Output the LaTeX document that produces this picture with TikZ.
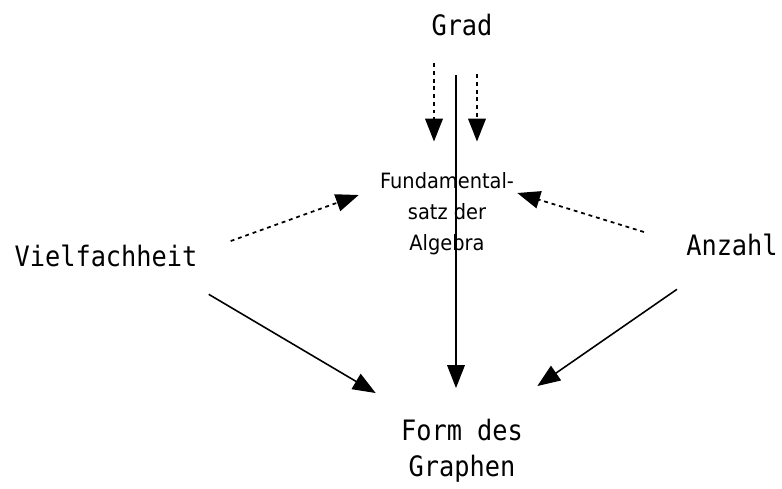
\documentclass[tikz,border=0pt]{standalone}
\usepackage{fontspec}
\setmainfont[FakeStretch = 0.9]{DejaVu Sans Mono}
\newfontfamily\fundfont[FakeStretch = 0.92]{DejaVu Sans}
\usepackage{tikz}
\usetikzlibrary{arrows.meta}

\tikzset{
	label/.style = {inner sep = 0pt, font = \fontsize{16pt}{20.5pt}\selectfont, align = center},
	smalllabel/.style = {inner sep = 0pt, font = \fundfont\fontsize{12pt}{17.6pt}\selectfont, align = center},
	solidarr/.style = {line width = 0.9pt, -{Triangle[length = 13pt, width = 10pt]}},
	dasharr/.style = {line width = 1pt, dash pattern = on 2.2pt off 2.2pt, -{Triangle[length = 13pt, width = 10pt]}}
}

\begin{document}
\begin{tikzpicture}[x = 0.02cm, y = -0.02cm]
	\useasboundingbox (0, 0) rectangle (782, 488);
	\node[label] (grad) at (462, 25) {Grad};
	\node[smalllabel] (fund) at (447, 214) {Fundamental-\\satz der\\Algebra};
	\node[label] (viel) at (106, 256) {Vielfachheit};
	\node[label] (anz) at (732, 245) {Anzahl};
	\node[label] (form) at (462, 451) {Form des\\Graphen};
	\draw[dasharr] ([shift = {(-28, 27)}]grad.south) -- ([shift = {(-13, -31)}]fund.north);
	\draw[dasharr] ([shift = {(15, 38)}]grad.south) -- ([shift = {(30, -31)}]fund.north);
	\draw[solidarr] ([shift = {(-6, 39)}]grad.south) -- ([shift = {(-6, -31)}]form.north);
	\draw[dasharr] ([shift = {(33, -15)}]viel.east) -- ([shift = {(-21, -19)}]fund.west);
	\draw[dasharr] ([shift = {(-42, -13)}]anz.west) -- ([shift = {(3, -21)}]fund.east);
	\draw[solidarr] ([shift = {(11, 27)}]viel.south east) -- ([shift = {(-25, -26)}]form.north west);
	\draw[solidarr] ([shift = {(-9, 33)}]anz.south west) -- ([shift = {(14, -33)}]form.north east);
\end{tikzpicture}
\end{document}
